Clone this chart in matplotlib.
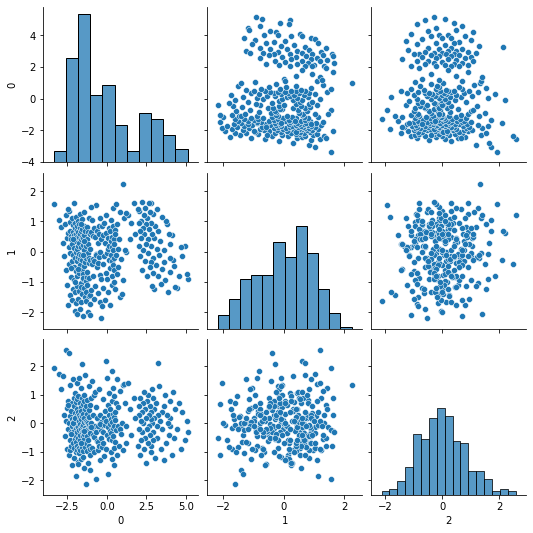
import numpy as np
import pandas as pd
import matplotlib
matplotlib.use("Agg")
import matplotlib.pyplot as plt
import matplotlib.ticker as mticker
import seaborn as sns

# group A: low values of column 0 (left blob)
a_0 = [-3.36, -3.05, -2.92, -2.78, -2.70, -2.64, -2.58, -2.55, -2.51, -2.49,
       -2.46, -2.44, -2.40, -2.39, -2.37, -2.35, -2.33, -2.31, -2.30, -2.27,
       -2.26, -2.24, -2.22, -2.21, -2.19, -2.18, -2.16, -2.15, -2.13, -2.12,
       -2.10, -2.09, -2.08, -2.06, -2.05, -2.04, -2.02, -2.01, -2.00, -1.99,
       -1.98, -1.97, -1.96, -1.95, -1.94, -1.93, -1.92, -1.91, -1.90, -1.89,
       -1.88, -1.88, -1.87, -1.86, -1.86, -2.47, -2.29, -2.11, -2.03, -1.81,
       -1.80, -1.80, -1.81, -1.79, -1.78, -1.77, -1.76, -1.75, -1.74, -1.73,
       -1.72, -1.71, -1.70, -1.69, -1.68, -1.67, -1.66, -1.65, -1.64, -1.63,
       -1.62, -1.61, -1.60, -1.59, -1.58, -1.57, -1.56, -1.55, -1.54, -1.53,
       -1.52, -1.51, -1.50, -1.49, -1.48, -1.47, -1.46, -1.45, -1.44, -1.43,
       -1.42, -1.41, -1.40, -1.39, -1.37, -1.36, -1.34, -1.33, -1.31, -1.30,
       -1.29, -1.27, -1.26, -1.25, -1.23, -1.22, -1.20, -1.19, -1.17, -1.16,
       -1.15, -1.14, -1.12, -1.11, -1.10, -1.09, -1.08, -1.07, -1.07, -1.06,
       -1.80, -1.62, -1.53, -1.44, -1.04, -1.01, -0.98, -0.95, -0.92, -0.90,
       -0.87, -0.85, -0.82, -0.80, -0.78, -0.75, -0.72, -0.70, -0.68, -0.65,
       -0.62, -0.60, -0.57, -0.55, -0.52, -0.50, -0.47, -0.45, -0.42, -0.40,
       -0.38, -0.36, -0.34, -0.33, -0.31, -0.97, -0.58, -0.44]
a_1 = [1.57, 1.05, 0.83, 0.30, -0.15, 0.90, -0.62, 1.20, 0.45, -1.10,
       0.62, -1.77, 0.15, 1.35, -0.40, 0.70, -1.44, 0.98, -0.05, 0.52,
       -0.85, 0.41, 1.10, -1.60, 0.25, -0.30, 0.66, -1.25, 0.88, -0.10,
       0.55, -0.95, 1.62, -0.50, 0.12, -1.95, 0.78, -0.22, 0.45, -1.35,
       0.95, -0.65, 0.35, -1.70, 0.60, -0.02, 1.15, -0.80, 0.50, -1.15,
       0.72, -0.32, 0.08, -2.05, 0.85, 1.40, -0.55, 0.42, -1.00, 0.20,
       -0.18, 0.64, -1.55, 1.02, -0.72, 0.48, -0.08, 0.92, -1.30, 0.28,
       -1.88, 0.58, -0.45, 0.80, -0.25, 1.25, -1.05, 0.42, -0.12, 0.68,
       -1.65, 0.16, -1.18, -0.60, 0.50, -1.40, 0.74, -0.28, 1.08, -0.90,
       0.44, -2.12, 0.22, -0.75, -0.88, -0.15, 1.30, -1.20, 0.56, 0.05,
       -0.48, 0.86, -1.50, 0.32, -0.33, 0.70, -0.98, 0.18, -1.32, -0.20,
       -1.62, -0.84, -0.68, 0.41, -1.10, 0.82, -0.04, 0.26, -2.00, 0.66,
       -0.38, 1.12, -0.88, -0.20, -1.48, 0.10, -1.42, -0.26, 0.60, -1.72,
       -0.58, 0.90, -0.10, 0.36, -2.10, 0.64, -1.28, 1.04, -0.42, 0.52,
       -0.82, -0.24, -1.58, 0.78, -0.30, 0.48, -1.12, 1.55, -0.06, -0.12,
       0.70, -0.52, 0.30, -1.38, 0.86, -0.16, 0.58, -1.68, 1.10, -0.78,
       -2.19, 0.41, -0.92, 0.84, -1.80, 1.48, -0.36, 0.00]
a_2 = [1.93, 1.72, 1.20, 1.65, 0.30, -0.45, 0.10, 2.58, -0.90, 0.55,
       -0.21, 0.80, -1.10, 0.00, 2.48, -0.60, 0.25, -0.95, 1.35, -0.30,
       0.45, -0.80, -0.10, 0.70, -1.45, 0.15, -0.35, 1.55, -0.70, 0.05,
       -0.85, 0.60, -0.25, 0.90, -1.20, -0.05, 0.20, -0.55, 1.05, -0.40,
       0.37, -1.00, 0.75, -0.15, -0.65, 0.12, -1.85, 0.50, -0.30, 0.85,
       -0.78, 0.28, -0.08, 1.40, -0.95, 0.65, -0.38, 0.02, 0.18, -1.35,
       0.40, -0.50, 0.95, -0.12, -0.88, 0.30, 1.60, -0.22, -1.05, 0.09,
       -0.60, 0.72, -0.02, -0.42, 0.22, -0.92, 1.25, -0.18, 0.58, -0.74,
       0.14, -1.25, 0.45, -0.32, 0.88, -0.10, -0.82, 2.10, 0.26, -0.46,
       -0.06, 0.68, -0.98, 0.32, -0.28, 1.00, -0.55, 0.04, -1.55, 0.78,
       0.20, -0.36, -0.84, 0.52, -0.15, 1.70, 0.10, -0.68, -0.24, 0.62,
       -2.13, 0.34, -0.44, -0.96, 0.06, 0.82, -0.21, -1.40, 0.00, -0.58,
       0.48, -0.04, -0.80, 1.30, 0.24, -0.34, -1.65, 0.66, -0.12, -0.90,
       -1.42, -0.70, -1.18, -0.26, -1.10, 0.90, 0.00, -0.86, 1.50, -0.40,
       -0.16, 0.28, -1.00, 1.00, -0.48, 1.10, -0.08, -1.95, 0.56, -0.30,
       0.18, -0.62, -0.94, -0.64, -0.14, 1.22, -0.78, 0.30, -1.28, 0.02,
       -0.52, 0.04, -0.22, -0.05, -0.84, -0.12, -0.10, -0.02]

# group B: column 0 near zero
b_0 = [1.00, -0.27, -0.25, -0.21, -0.19, -0.16, -0.12, -0.10, -0.07, -0.05,
       -0.02, 0.00, 0.03, 0.05, 0.08, 0.10, 0.12, 0.15, 0.17, 0.19,
       0.21, 0.23, 0.25, 0.27, 0.28, 0.30, 0.32, 0.33, 0.35, 0.36,
       0.38, 0.39, 0.41, 0.42, 0.44, 0.45, 0.46, 0.47, 0.48, 0.49,
       0.52, 0.55, 0.58, 0.61, 0.63, 0.66, 0.70, 0.73, 0.77, 0.81,
       0.85, 0.90, 0.96, 1.04, 1.10, 1.22]
b_1 = [2.25, -0.40, 0.55, -1.20, 0.95, -0.15, 0.30, -1.60, 0.62, -0.70,
       1.20, -0.05, -0.90, 0.45, 0.10, -1.35, 0.80, -0.28, 0.20, -0.55,
       0.68, -1.75, 0.35, -0.10, 1.05, -0.82, 0.15, 0.50, -1.10, -0.32,
       0.85, 0.05, -0.45, 1.45, -0.20, 0.41, -1.00, 0.25, -0.62, 0.72,
       -1.25, 0.58, -0.12, 1.57, -0.75, 0.92, 0.08, -0.50, 0.42, -1.50,
       1.30, -0.25, -1.40, -0.95, 1.10, 0.00]
b_2 = [1.33, -0.30, 0.85, -0.70, 0.20, -1.15, 0.45, -0.05, 2.20, -0.90,
       0.10, -0.40, 1.60, -0.12, 0.65, -1.79, 0.28, -0.55, 1.05, -0.25,
       -0.02, 0.50, -1.00, 0.15, -0.35, 1.85, -0.60, 0.05, -1.25, 0.78,
       -0.45, 0.32, -0.15, 1.25, -0.85, 0.22, -0.08, 0.95, -1.45, 0.40,
       -0.65, 0.12, 0.70, -0.22, -1.10, 1.55, -0.10, 0.58, -0.78, -0.18,
       1.12, -0.38, 0.02, -0.95, 1.38, -0.70]

# group C: high values of column 0 (upper blob)
c_0 = [5.12, 5.05, 4.95, 4.78, 4.72, 4.60, 4.45,
       4.30, 4.24, 4.20, 4.10, 4.02, 4.00, 3.98, 3.92, 3.85, 3.81, 3.77, 3.70, 3.65, 3.60,
       3.52, 3.48, 3.42, 3.38, 3.33, 3.27, 3.22, 3.18, 3.15, 3.10, 3.06, 3.02, 2.98, 2.95,
       2.92, 2.90, 2.87, 2.85, 2.83, 2.81, 2.815, 2.81,
       2.75, 2.72, 2.70, 2.66, 2.63, 2.60, 2.57, 2.54, 2.50, 2.47, 2.44, 2.40, 2.37, 2.34,
       2.30, 2.27, 2.24, 2.20, 2.17, 2.14, 2.11, 2.08, 2.06, 2.05, 2.04,
       1.95, 1.80, 1.70, 1.55, 1.45, 1.35,
       1.20, 1.13]
c_1 = [-0.92, -0.73, 0.20, -0.13, 0.16, -0.79, -1.19,
       -1.16, -0.46, -0.27, 0.55, -0.66, -0.20, 0.24, 0.59, -1.32, 0.92, 1.03, -0.95, 0.05, -0.33,
       -0.58, 1.15, -1.06, 0.35, -0.10, 0.70, -0.80, 1.40, 0.10, -0.45, 0.85, -1.25, 0.45, -0.20,
       1.25, -0.70, 0.60, -1.12, 1.60, 0.20, -0.33, 0.95,
       1.30, -0.50, 0.75, 1.62, -0.05, 0.41, 1.10, -0.80, 0.90, 0.25, 1.45, -0.30, 0.60, 1.20,
       0.05, 0.80, 1.66, -0.60, 0.45, 1.00, -0.15, 0.70, 1.35, 0.20, 0.95,
       1.40, 0.60, 1.62, 0.95, 0.41, 1.20,
       1.27, 0.04]
c_2 = [-0.3, 0.1, -0.6, 0.4, -0.9, 0.7, -0.2,
       0.5, -0.5, 1.1, -1.1, 0.2, -0.1, 0.8, -0.4, 0.0, 0.3, -0.7, 1.0, -1.28, 0.6,
       -0.2, 0.4, -0.9, 0.1, 1.3, 2.13, 0.3, -0.5, -0.1, 0.7, -1.2, 0.2, 0.5, -0.6,
       0.9, -0.3, 0.0, 1.2, -0.8, 0.4, -1.0, 0.15,
       -0.4, 0.6, -0.1, 0.3, 1.0, -0.7, 0.8, -0.2, 0.2, -1.4, 0.5, -0.5, 1.1, -0.9,
       0.0, 0.7, -0.3, 0.4, -0.6, 0.1, 0.9, -1.1, 0.3, -0.2, 0.6,
       -0.8, 0.2, 0.9, -0.4, 0.5, 1.4,
       -0.1, 0.7]

cols = ["0", "1", "2"]
n_bins = {"0": 11, "1": 12, "2": 17}

df = pd.DataFrame({
    "0": a_0 + b_0 + c_0,
    "1": a_1 + b_1 + c_1,
    "2": a_2 + b_2 + c_2,
})


def diag_hist(x, hue=None, **kws):
    sns.histplot(x=x, bins=n_bins[x.name])


g = sns.PairGrid(df, height=2.5)
g.map_offdiag(sns.scatterplot)
g.map_diag(diag_hist)

# older matplotlib padded scatter limits a bit more than the default 5%
for i, c in enumerate(cols):
    lo, hi = df[c].min(), df[c].max()
    pad = 0.08 * (hi - lo)
    g.axes[i, 0].set_ylim(lo - pad, hi + pad)
    g.axes[-1, i].set_xlim(lo - pad, hi + pad)

g.axes[-1, 0].xaxis.set_major_locator(mticker.MultipleLocator(2.5))

g.tight_layout()
g.savefig("out.png", dpi=72)
